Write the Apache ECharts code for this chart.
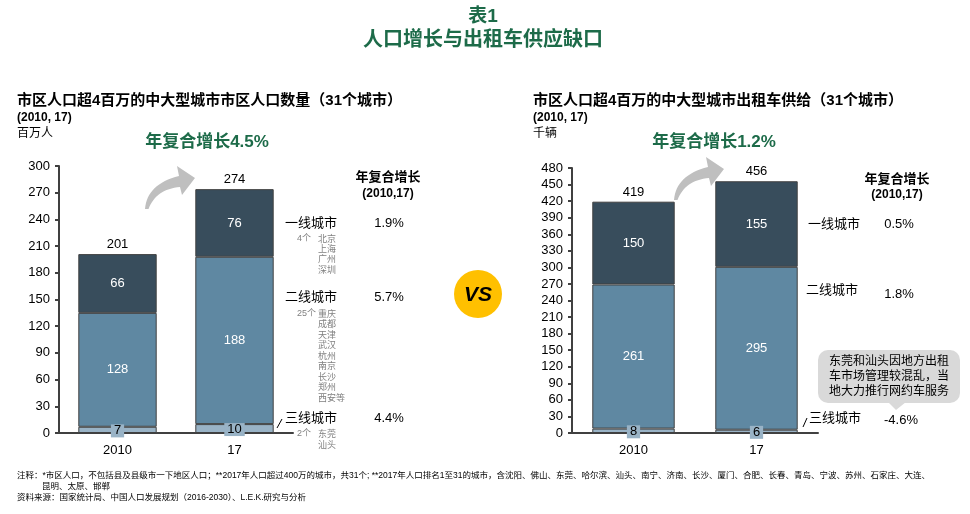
<!DOCTYPE html>
<html><head><meta charset="utf-8">
<script src="https://cdn.jsdelivr.net/npm/echarts@6/dist/echarts.min.js"></script>
<style>html,body{margin:0;padding:0;background:#fff}#c{width:970px;height:514px}</style>
</head><body><div id="c"></div>
<script>
// ---- data ----
const categoriesLeft = ['2010', '17'];
const popTier3 = [7, 10];
const popTier2 = [128, 188];
const popTier1 = [66, 76];
const categoriesRight = ['2010', '17'];
const taxiTier3 = [8, 6];
const taxiTier2 = [261, 295];
const taxiTier1 = [150, 155];
const popAxis = { min: 0, max: 300, interval: 30 };
const taxiAxis = { min: 0, max: 480, interval: 30 };
const tierNames = ['一线城市', '二线城市', '三线城市'];
const popCagr = ['1.9%', '5.7%', '4.4%'];
const taxiCagr = ['0.5%', '1.8%', '-4.6%'];
const popTotalCagr = '年复合增长4.5%';
const taxiTotalCagr = '年复合增长1.2%';

// ---- style ----
const F = '"Liberation Sans","Noto Sans CJK SC",sans-serif';
const DARK = '#384D5C', MID = '#5F88A2', LIGHT = '#99B3C6', LINE = '#404040', GREEN = '#1D6B49', GREY = '#808080';

function T(text, x, y, size, o) {
  o = o || {};
  return { type: 'text', x: x, y: y, silent: true, z: 10,
    style: { text: text, fontSize: size, fontFamily: F, fontWeight: o.bold ? 'bold' : 'normal',
      fontStyle: o.italic ? 'italic' : 'normal', fill: o.color || '#000',
      textAlign: o.align || 'left', textVerticalAlign: o.va || 'middle', lineHeight: o.lh } };
}

function arrow(dx, dy) {
  // curved grey arrow (decoration)
  function q(p0, c, p1, n) { const pts = []; for (let i = 0; i <= n; i++) { const t = i / n;
    pts.push([(1-t)*(1-t)*p0[0] + 2*(1-t)*t*c[0] + t*t*p1[0] + dx, (1-t)*(1-t)*p0[1] + 2*(1-t)*t*c[1] + t*t*p1[1] + dy]); } return pts; }
  let pts = q([145, 209], [147, 184], [179, 176], 16);
  pts.push([177 + dx, 166 + dy], [195 + dx, 178 + dy], [182 + dx, 195 + dy]);
  pts = pts.concat(q([180, 187], [156, 189], [148.5, 209], 16));
  return { type: 'polygon', silent: true, shape: { points: pts }, style: { fill: '#BFBFBF' } };
}

function stackSeries(idx, d3, d2, d1) {
  const totals = d1.map((v, i) => v + d2[i] + d3[i]);
  const bs = { borderColor: LINE, borderWidth: 1 };
  const base = { type: 'bar', xAxisIndex: idx, yAxisIndex: idx, stack: 's' + idx, barWidth: '67%', silent: true };
  const lbl = { show: true, color: '#fff', fontSize: 13, fontFamily: F };
  return [
    Object.assign({}, base, { data: d3, itemStyle: Object.assign({ color: LIGHT }, bs),
      label: { show: true, position: 'inside', color: '#000', fontSize: 13, fontFamily: F, backgroundColor: LIGHT, padding: [0, 3], offset: [0, 1] } }),
    Object.assign({}, base, { data: d2, itemStyle: Object.assign({ color: MID }, bs), label: lbl }),
    Object.assign({}, base, { data: d1, itemStyle: Object.assign({ color: DARK }, bs), label: lbl }),
    { type: 'bar', xAxisIndex: idx, yAxisIndex: idx, barWidth: '67%', barGap: '-100%', silent: true, z: 1,
      data: totals, itemStyle: { color: 'rgba(0,0,0,0)' },
      label: { show: true, position: 'top', distance: 3, color: '#000', fontSize: 13, fontFamily: F } }
  ];
}

const axisLineStyle = { color: LINE, width: 2 };
function xAx(idx, cats) {
  return { type: 'category', gridIndex: idx, data: cats,
    axisLine: { lineStyle: axisLineStyle }, axisTick: { length: 5, lineStyle: axisLineStyle },
    axisLabel: { color: '#000', fontSize: 13, fontFamily: F, margin: 11 } };
}
function yAx(idx, a) {
  return { type: 'value', gridIndex: idx, min: a.min, max: a.max, interval: a.interval,
    splitLine: { show: false }, axisLine: { show: true, lineStyle: axisLineStyle },
    axisTick: { show: true, length: 4, lineStyle: axisLineStyle },
    axisLabel: { color: '#000', fontSize: 13, fontFamily: F, margin: 9 } };
}

const graphics = [
  T('表1', 483, 17, 19, { bold: true, color: GREEN, align: 'center' }),
  T('人口增长与出租车供应缺口', 483, 40, 20, { bold: true, color: GREEN, align: 'center' }),
  // left header
  T('市区人口超4百万的中大型城市市区人口数量（31个城市）', 17, 101, 15, { bold: true }),
  T('(2010, 17)', 17, 118, 12, { bold: true }),
  T('百万人', 17, 134, 12),
  T(popTotalCagr, 207, 142, 17, { bold: true, color: GREEN, align: 'center' }),
  // right header
  T('市区人口超4百万的中大型城市出租车供给（31个城市）', 533, 101, 15, { bold: true }),
  T('(2010, 17)', 533, 118, 12, { bold: true }),
  T('千辆', 533, 134, 12),
  T(taxiTotalCagr, 714, 142, 17, { bold: true, color: GREEN, align: 'center' }),
  arrow(0, 0), arrow(529, -9),
  // left legend
  T('年复合增长', 388, 177, 13, { bold: true, align: 'center' }),
  T('(2010,17)', 388, 194, 12, { bold: true, align: 'center' }),
  T(tierNames[0], 285, 223, 13), T(popCagr[0], 389, 223, 13, { align: 'center' }),
  T('4个', 297, 239, 9, { color: GREY }),
  T('北京\n上海\n广州\n深圳', 318, 234, 9, { color: GREY, va: 'top', lh: 10.4 }),
  T(tierNames[1], 285, 297, 13), T(popCagr[1], 389, 297, 13, { align: 'center' }),
  T('25个', 297, 314, 9, { color: GREY }),
  T('重庆\n成都\n天津\n武汉\n杭州\n南京\n长沙\n郑州\n西安等', 318, 309, 9, { color: GREY, va: 'top', lh: 10.5 }),
  T(tierNames[2], 285, 418, 13), T(popCagr[2], 389, 418, 13, { align: 'center' }),
  T('2个', 297, 434, 9, { color: GREY }),
  T('东莞\n汕头', 318, 429, 9, { color: GREY, va: 'top', lh: 11 }),
  { type: 'line', silent: true, shape: { x1: 277, y1: 428, x2: 282, y2: 419 }, style: { stroke: '#000', lineWidth: 1 } },
  // VS
  { type: 'circle', silent: true, shape: { cx: 478, cy: 294, r: 24 }, style: { fill: '#FFC000' } },
  T('VS', 478, 295, 21, { bold: true, italic: true, align: 'center' }),
  // right legend
  T('年复合增长', 897, 179, 13, { bold: true, align: 'center' }),
  T('(2010,17)', 897, 195, 12, { bold: true, align: 'center' }),
  T(tierNames[0], 808, 224, 13), T(taxiCagr[0], 899, 224, 13, { align: 'center' }),
  T(tierNames[1], 806, 290, 13), T(taxiCagr[1], 899, 294, 13, { align: 'center' }),
  T(tierNames[2], 809, 418, 13), T(taxiCagr[2], 901, 420, 13, { align: 'center' }),
  { type: 'line', silent: true, shape: { x1: 803, y1: 427, x2: 807, y2: 418 }, style: { stroke: '#000', lineWidth: 1 } },
  // callout
  { type: 'rect', silent: true, shape: { x: 818, y: 350, width: 142, height: 53, r: 10 }, style: { fill: '#D9D9D9' } },
  { type: 'polygon', silent: true, shape: { points: [[888, 402], [906, 402], [896, 410]] }, style: { fill: '#D9D9D9' } },
  T('东莞和汕头因地方出租\n车市场管理较混乱，当\n地大力推行网约车服务', 889, 377, 12, { align: 'center', lh: 15 }),
  // footer
  T('注释：*市区人口，不包括县及县级市一下地区人口；**2017年人口超过400万的城市，共31个; **2017年人口排名1至31的城市，含沈阳、佛山、东莞、哈尔滨、汕头、南宁、济南、长沙、厦门、合肥、长春、青岛、宁波、苏州、石家庄、大连、', 17, 476, 8.5),
  T('昆明、太原、邯郸', 42, 487, 8.5),
  T('资料来源：国家统计局、中国人口发展规划（2016-2030）、L.E.K.研究与分析', 17, 498, 8.5)
];

const chart = echarts.init(document.getElementById('c'), null, { renderer: 'canvas' });
chart.setOption({
  animation: false,
  backgroundColor: '#fff',
  textStyle: { fontFamily: F },
  grid: [
    { left: 59, top: 166, width: 234, height: 267 },
    { left: 572, top: 168, width: 246, height: 265 }
  ],
  xAxis: [xAx(0, categoriesLeft), xAx(1, categoriesRight)],
  yAxis: [yAx(0, popAxis), yAx(1, taxiAxis)],
  series: stackSeries(0, popTier3, popTier2, popTier1).concat(stackSeries(1, taxiTier3, taxiTier2, taxiTier1)),
  graphic: graphics
});
</script></body></html>
